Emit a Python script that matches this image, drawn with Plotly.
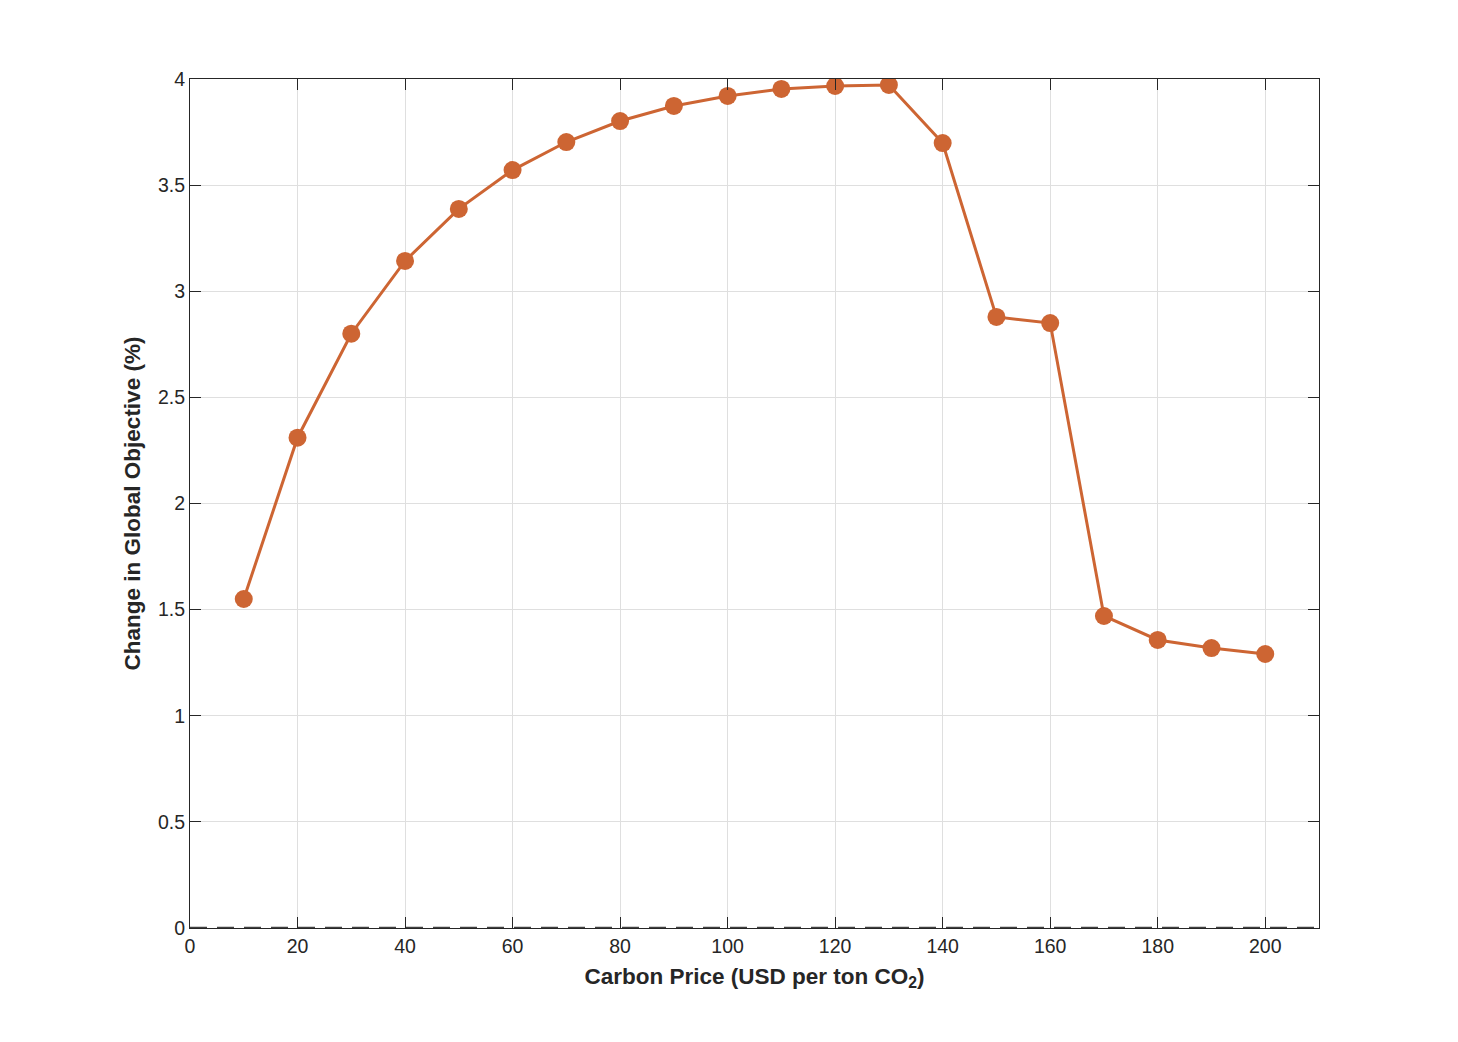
import plotly.graph_objects as go

# carbon price (USD per ton CO2) vs change in global objective (%)
carbon_price = [10, 20, 30, 40, 50, 60, 70, 80, 90, 100,
                110, 120, 130, 140, 150, 160, 170, 180, 190, 200]
change_pct = [1.55, 2.31, 2.80, 3.143, 3.388, 3.571, 3.703, 3.802, 3.873, 3.920,
              3.953, 3.967, 3.972, 3.698, 2.879, 2.850, 1.470, 1.357, 1.319, 1.291]

orange = "#CD6533"

fig = go.Figure()
fig.add_trace(go.Scatter(
    x=carbon_price, y=change_pct, mode="lines+markers",
    line=dict(color=orange, width=3),
    marker=dict(color=orange, size=18),
    showlegend=False,
))

# zero reference line
fig.add_hline(y=0, line=dict(color="#404040", width=2.5, dash="17px,10px"))

axis_style = dict(
    showline=True, linecolor="#262626", linewidth=1.2, mirror="ticks",
    ticks="inside", ticklen=11, tickcolor="#262626", tickwidth=1.2,
    showgrid=True, gridcolor="#DFDFDF", gridwidth=1,
    zeroline=False,
    tickfont=dict(size=19.5, color="#262626"),
)

fig.update_xaxes(
    range=[0, 210], tick0=0, dtick=20,
    title=dict(text="<b>Carbon Price (USD per ton CO<sub>2</sub>)</b>",
               font=dict(size=22.5, color="#262626"), standoff=12),
    **axis_style,
)
fig.update_yaxes(
    range=[0, 4], tick0=0, dtick=0.5,
    title=dict(text="<b>Change in Global Objective (%)</b>",
               font=dict(size=22.5, color="#262626"), standoff=11),
    **axis_style,
)

fig.update_layout(
    width=1458, height=1042,
    margin=dict(l=182, r=147, t=71, b=122),
    plot_bgcolor="white", paper_bgcolor="white",
    font=dict(family="Liberation Sans, Arial, Helvetica, sans-serif", color="#262626"),
)

fig.write_html("out.html")
